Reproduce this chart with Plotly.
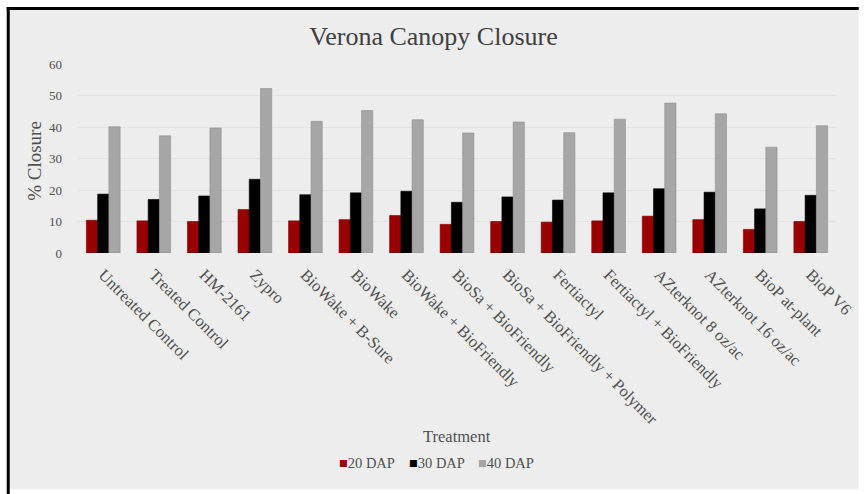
import plotly.graph_objects as go

treatments = ["Untreated Control", "Treated Control", "HM-2161", "Zypro", "BioWake + B-Sure",
              "BioWake", "BioWake + BioFriendly", "BioSa + BioFriendly",
              "BioSa + BioFriendly + Polymer", "Fertiactyl", "Fertiactyl + BioFriendly",
              "AZterknot 8 oz/ac", "AZterknot 16 oz/ac", "BioP at-plant", "BioP V6"]
dap20 = [10.4, 10.2, 10.0, 13.8, 10.2, 10.6, 11.9, 9.1, 10.0, 9.8, 10.2, 11.7, 10.6, 7.5, 10.0]
dap30 = [18.7, 17.0, 18.1, 23.4, 18.5, 19.1, 19.6, 16.1, 17.8, 16.8, 19.1, 20.4, 19.3, 14.0, 18.3]
dap40 = [40.1, 37.2, 39.7, 52.2, 41.8, 45.2, 42.3, 38.1, 41.6, 38.2, 42.5, 47.6, 44.2, 33.6, 40.4]
series_names = ["20 DAP", "30 DAP", "40 DAP"]
y_ticks = [0, 10, 20, 30, 40, 50, 60]

W, H = 867, 494
L, R, T, B = 78, 23, 63.5, 241.3
PW, PH = W - L - R, H - T - B

def px(x):
    return (x - L) / PW

def py(y):
    return (H - B - y) / PH

SERIF = "Liberation Serif, Times New Roman, serif"
GREY_TXT = "#505050"

fig = go.Figure()
colors = ["#990000", "#000000", "#a6a6a6"]
lines = ["#7a0000", "#000000", "#8f8f8f"]
for name, vals, c, lc in zip(series_names, [dap20, dap30, dap40], colors, lines):
    fig.add_trace(go.Bar(x=treatments, y=vals, name=name, showlegend=False,
                         marker=dict(color=c, line=dict(color=lc, width=0.6))))

shapes = [
    dict(type="rect", xref="paper", yref="paper", x0=px(8), x1=px(867), y0=py(8), y1=py(489),
         fillcolor="#ededed", line=dict(width=0), layer="below"),
    dict(type="line", xref="paper", yref="paper", x0=px(7.5), x1=px(7.5), y0=py(6.5), y1=py(494),
         line=dict(color="black", width=3), layer="below"),
    dict(type="line", xref="paper", yref="paper", x0=px(6), x1=px(867), y0=py(8), y1=py(8),
         line=dict(color="black", width=3), layer="below"),
]

annotations = [
    dict(text="% Closure", xref="paper", yref="paper", x=px(34), y=py(160), showarrow=False,
         xanchor="center", yanchor="middle",
         textangle=-90, font=dict(family=SERIF, size=19, color=GREY_TXT)),
    dict(text="Treatment", xref="paper", yref="paper", x=px(461), y=py(436), showarrow=False,
         xanchor="center", yanchor="middle",
         font=dict(family=SERIF, size=16.5, color=GREY_TXT)),
]

legend_x = [340, 410, 480]
for name, c, lx in zip(series_names, colors, legend_x):
    annotations.append(dict(
        text=f'<span style="color:{c}">■</span>{name}', xref="paper", yref="paper",
        x=px(lx), y=py(463), xanchor="left", yanchor="middle", showarrow=False,
        font=dict(family=SERIF, size=14.5, color=GREY_TXT)))

fig.update_layout(
    width=W, height=H,
    margin=dict(l=L, r=R, t=T, b=B),
    paper_bgcolor="white",
    plot_bgcolor="rgba(0,0,0,0)",
    showlegend=False,
    title=dict(text="Verona Canopy Closure", x=0.5, xanchor="center", xref="container",
               y=1 - 36 / H, yanchor="middle", yref="container",
               font=dict(family=SERIF, size=26, color="#404040")),
    barmode="group", bargap=0.333, bargroupgap=0,
    xaxis=dict(tickangle=45, tickfont=dict(family=SERIF, size=16.5, color=GREY_TXT),
               showgrid=False, showline=False, ticks="", ticklabelstandoff=8),
    yaxis=dict(range=[0, 60], tickvals=y_ticks, showgrid=True, gridcolor="#e3e3e3", gridwidth=1,
               zeroline=False, showline=False, ticks="", ticklabelstandoff=15,
               tickfont=dict(family=SERIF, size=13, color=GREY_TXT)),
    shapes=shapes,
    annotations=annotations,
)

fig.write_html("out.html", config={"displayModeBar": False},
               post_script="document.body.style.margin='0';")
